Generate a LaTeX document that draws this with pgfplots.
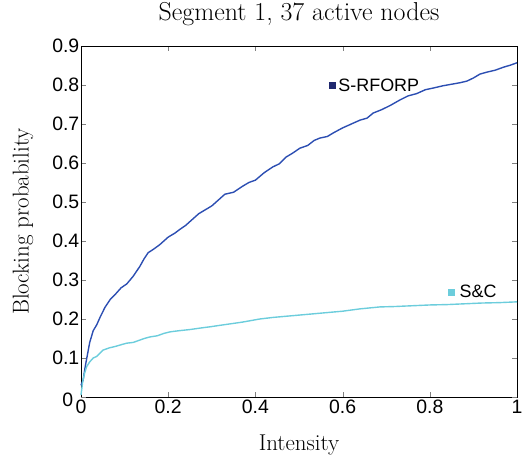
\documentclass[border=0pt]{standalone}
\usepackage{fontspec}
\newfontfamily\arial{Liberation Sans}
\usepackage{pgfplots}
\pgfplotsset{compat=1.18}
\definecolor{rforp}{RGB}{44,78,178}
\definecolor{rforpmark}{RGB}{31,40,110}
\definecolor{snc}{RGB}{108,205,220}

\begin{document}
\begin{tikzpicture}
\begin{axis}[
  scale only axis,
  width=436bp, height=351bp,
  xmin=0, xmax=1, ymin=0, ymax=0.9,
  xtick={0,0.2,0.4,0.6,0.8,1},
  ytick={0.1,0.2,0.3,0.4,0.5,0.6,0.7,0.8,0.9},
  extra y ticks={0},
  extra y tick labels={0},
  extra y tick style={yticklabel style={xshift=-6bp, yshift=-3bp}},
  tick align=inside, major tick length=5bp,
  xticklabels={0,0.2,0.4,0.6,0.8,1},
  yticklabels={0.1,0.2,0.3,0.4,0.5,0.6,0.7,0.8,0.9},
  tick label style={font=\arial\fontsize{19.5}{21}\selectfont},
  yticklabel style={inner sep=1.5bp},
  xticklabel style={inner sep=3bp},
  axis line style={line width=1pt},
  title={Segment 1, 37 active nodes},
  title style={font=\fontsize{26}{28}\selectfont, at={(axis description cs:0.5,1)}, anchor=center, yshift=26bp},
  xlabel={Intensity},
  ylabel={Blocking probability},
  label style={font=\fontsize{23}{25}\selectfont},
  xlabel style={at={(axis description cs:0.5,0)}, anchor=center, yshift=-48bp},
  ylabel style={at={(axis description cs:0,0.5)}, anchor=center, yshift=58bp},
  clip=false,
]
\addplot[rforp, line width=1.4pt] coordinates {
(0,0.03)(0.005,0.044)(0.01,0.08)(0.015,0.11)(0.02,0.14)(0.028,0.17)(0.036,0.185)(0.044,0.205)
(0.055,0.23)(0.067,0.25)(0.08,0.265)(0.092,0.28)(0.105,0.29)(0.12,0.31)(0.135,0.335)
(0.145,0.355)(0.154,0.37)(0.165,0.378)(0.18,0.39)(0.2,0.41)(0.215,0.42)(0.227,0.43)
(0.24,0.44)(0.255,0.455)(0.27,0.47)(0.285,0.48)(0.3,0.49)(0.315,0.505)(0.33,0.52)
(0.35,0.525)(0.37,0.54)(0.385,0.55)(0.4,0.556)(0.42,0.575)(0.44,0.59)(0.455,0.598)
(0.47,0.615)(0.485,0.625)(0.502,0.638)(0.52,0.645)(0.535,0.658)(0.548,0.664)(0.565,0.668)
(0.58,0.678)(0.6,0.69)(0.62,0.7)(0.64,0.71)(0.656,0.715)(0.67,0.728)(0.69,0.737)
(0.71,0.748)(0.732,0.762)(0.75,0.772)(0.77,0.778)(0.79,0.788)(0.807,0.792)(0.83,0.798)
(0.85,0.802)(0.87,0.806)(0.885,0.81)(0.9,0.818)(0.915,0.828)(0.931,0.833)(0.95,0.838)
(0.97,0.846)(0.985,0.851)(1,0.857)
};
\addplot[snc, line width=1.4pt] coordinates {
(0,0.005)(0.004,0.04)(0.008,0.06)(0.013,0.078)(0.02,0.09)(0.028,0.1)(0.036,0.104)
(0.044,0.113)(0.05,0.12)(0.065,0.126)(0.08,0.13)(0.095,0.135)(0.105,0.138)(0.12,0.14)
(0.135,0.146)(0.145,0.15)(0.158,0.154)(0.175,0.157)(0.19,0.163)(0.204,0.167)(0.225,0.17)
(0.25,0.173)(0.275,0.177)(0.296,0.18)(0.32,0.184)(0.345,0.188)(0.37,0.192)(0.39,0.196)
(0.41,0.2)(0.44,0.204)(0.47,0.207)(0.5,0.21)(0.53,0.213)(0.56,0.216)(0.6,0.22)
(0.64,0.226)(0.686,0.231)(0.72,0.232)(0.76,0.234)(0.8,0.236)(0.84,0.237)(0.88,0.239)
(0.92,0.241)(0.96,0.242)(1,0.244)
};
\addplot[only marks, mark=square*, mark size=3bp, rforpmark] coordinates {(0.576,0.8)};
\addplot[only marks, mark=square*, mark size=3bp, snc] coordinates {(0.849,0.27)};
\node[anchor=west, font=\arial\fontsize{18}{20}\selectfont, inner sep=0pt] at (axis cs:0.59,0.8) {S-RFORP};
\node[anchor=west, font=\arial\fontsize{18}{20}\selectfont, inner sep=0pt] at (axis cs:0.868,0.27) {S\&C};
\end{axis}
\pgfresetboundingbox
\path (-81bp,-65bp) rectangle (445bp,397bp);
\end{tikzpicture}
\end{document}
